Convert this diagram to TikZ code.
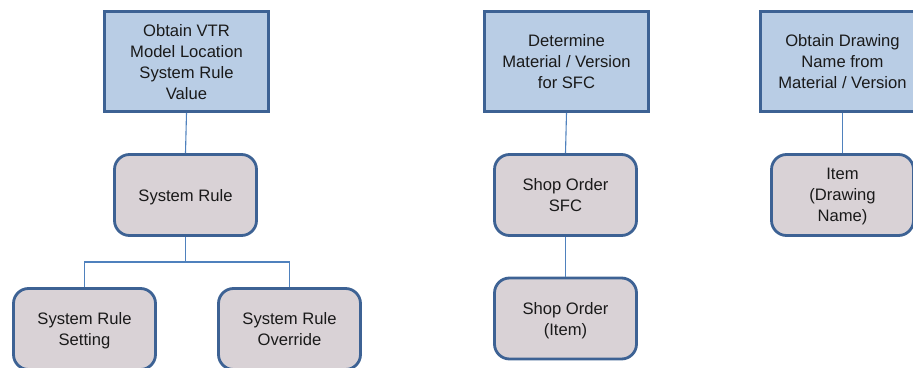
\documentclass[tikz,border=0pt]{standalone}
\usepackage{fontspec}
\setmainfont{Liberation Sans}
\definecolor{bfill}{HTML}{B9CDE5}
\definecolor{bdraw}{HTML}{3D6294}
\definecolor{rfill}{HTML}{D9D2D6}
\definecolor{lcol}{HTML}{4F81BD}
\definecolor{tcol}{HTML}{1A1A1A}
\tikzset{
  taskbox/.style={rectangle, draw=bdraw, fill=bfill, line width=2.8pt,
    minimum width=164pt, minimum height=100pt, inner sep=0pt, text depth=0pt,
    align=center, text=tcol, font=\fontsize{16.6}{21}\selectfont},
  entbox/.style={rectangle, rounded corners=15pt, draw=bdraw, fill=rfill, line width=2.8pt,
    minimum width=142pt, minimum height=81pt, inner sep=0pt, text depth=0pt,
    align=center, text=tcol, font=\fontsize{16.6}{21}\selectfont},
  conn/.style={draw=lcol, line width=1.1pt}
}
\begin{document}
\begin{tikzpicture}[x=1pt,y=1pt]
\useasboundingbox (0,0) rectangle (913,-367);
\clip (0,0) rectangle (913,-367);
\node[taskbox] (t1) at (186.5,-61.5) {Obtain VTR\\Model Location\\System Rule\\Value};
\node[entbox] (sr) at (185.5,-195) {System Rule};
\node[entbox] (srs) at (84.5,-329) {System Rule\\Setting};
\node[entbox] (sro) at (289.5,-329) {System Rule\\Override};
\coordinate (bus) at (185.5,-262);
\node[taskbox] (t2) at (566.5,-61.5) {Determine\\Material / Version\\for SFC};
\node[entbox] (sosfc) at (565.5,-195) {Shop Order\\SFC};
\node[entbox] (soi) at (565.5,-318.5) {Shop Order\\(Item)};
\node[taskbox] (t3) at (842.5,-61.5) {Obtain Drawing\\Name from\\Material / Version};
\node[entbox] (item) at (842.5,-195) {Item\\(Drawing\\Name)};
\draw[conn] (t1.south) -- (sr.north);
\draw[conn] (sr.south) -- (bus);
\draw[conn] (bus) -| (srs.north);
\draw[conn] (bus) -| (sro.north);
\draw[conn] (t2.south) -- (sosfc.north);
\draw[conn] (sosfc.south) -- (soi.north);
\draw[conn] (t3.south) -- (item.north);
\end{tikzpicture}
\end{document}
